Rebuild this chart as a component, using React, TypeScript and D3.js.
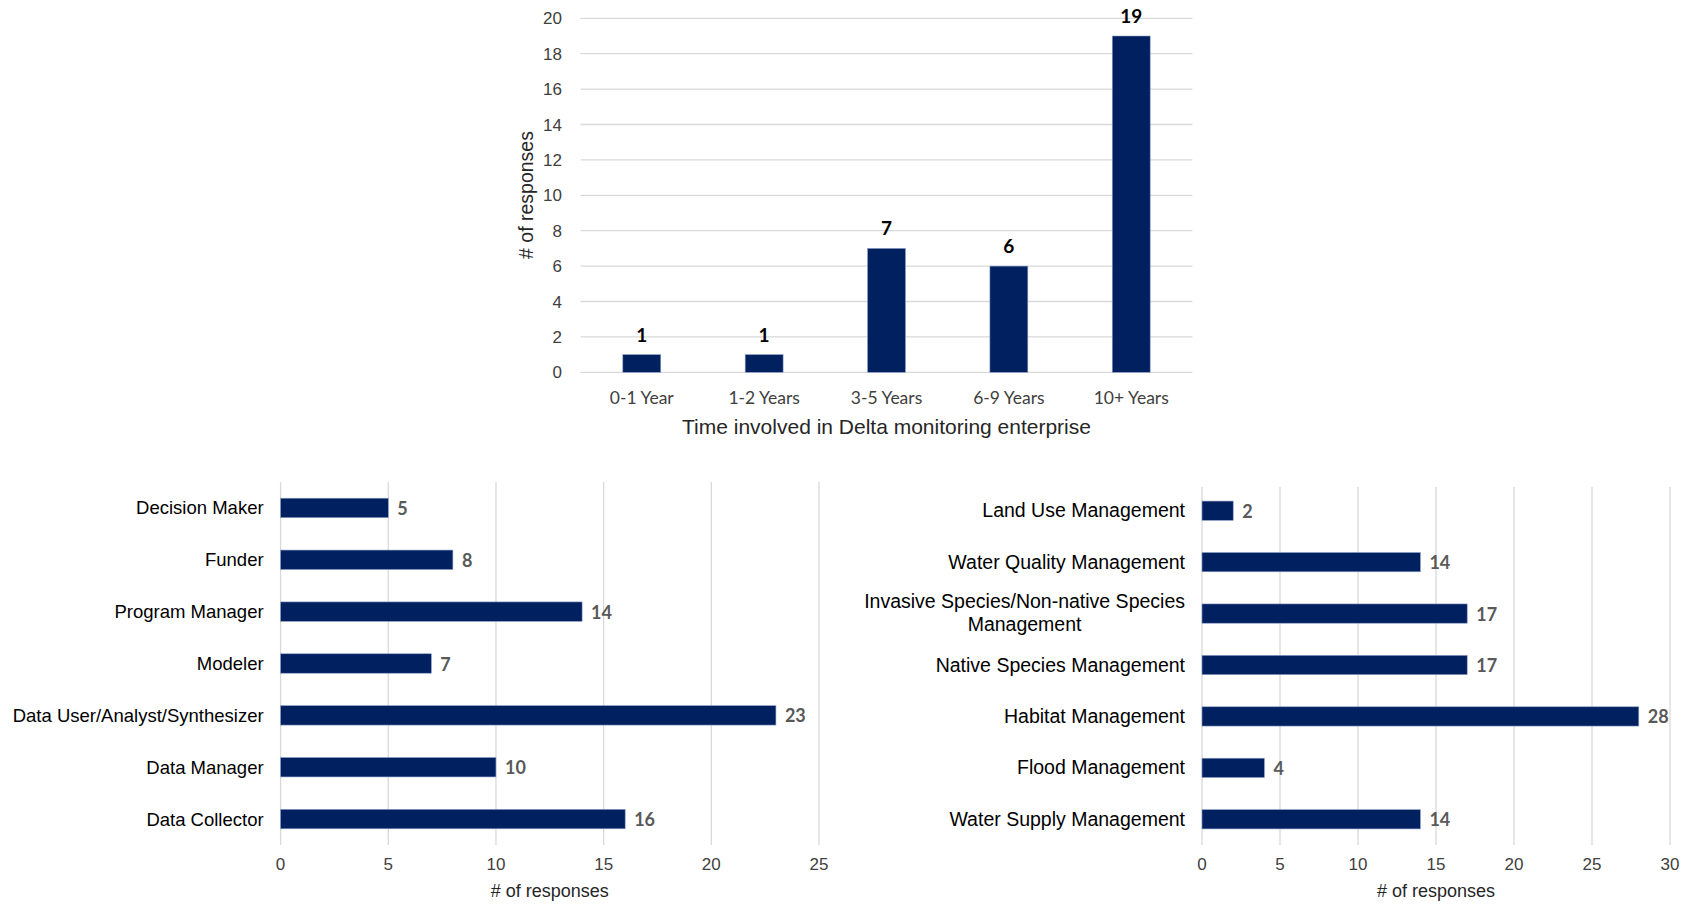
import { useEffect, useRef } from "react";
import * as d3 from "d3";

// top chart: years involved
const yearCats = ["0-1 Year", "1-2 Years", "3-5 Years", "6-9 Years", "10+ Years"];
const yearVals = [1, 1, 7, 6, 19];
const yearTicks = [0, 2, 4, 6, 8, 10, 12, 14, 16, 18, 20];

// bottom left: roles
const roleCats = ["Decision Maker", "Funder", "Program Manager", "Modeler", "Data User/Analyst/Synthesizer", "Data Manager", "Data Collector"];
const roleVals = [5, 8, 14, 7, 23, 10, 16];
const roleTicks = [0, 5, 10, 15, 20, 25];

// bottom right: management areas
const mgmtCats = [
  "Land Use Management",
  "Water Quality Management",
  "Invasive Species/Non-native Species\nManagement",
  "Native Species Management",
  "Habitat Management",
  "Flood Management",
  "Water Supply Management",
];
const mgmtVals = [2, 14, 17, 17, 28, 4, 14];
const mgmtTicks = [0, 5, 10, 15, 20, 25, 30];

const BAR = "#002060";
const GRID = "#d9d9d9";
const ARIAL = "'Liberation Sans', Arial, sans-serif";
const CALIBRI = "Lato, 'Open Sans', sans-serif";

function hbar(
  svg: d3.Selection<SVGSVGElement, unknown, null, undefined>,
  cats: string[],
  vals: number[],
  ticks: number[],
  box: { x0: number; x1: number; y0: number; y1: number; gy0: number },
  labelSize: number
) {
  const x = d3.scaleLinear().domain([0, ticks[ticks.length - 1]]).range([box.x0, box.x1]);
  const y = d3.scaleBand<string>().domain(cats).range([box.y0, box.y1]).paddingInner(0.625).paddingOuter(0.3125);
  const g = svg.append("g");

  g.selectAll("line.grid")
    .data(ticks)
    .enter()
    .append("line")
    .attr("x1", (d) => x(d))
    .attr("x2", (d) => x(d))
    .attr("y1", box.gy0)
    .attr("y2", box.y1)
    .attr("stroke", GRID)
    .attr("stroke-width", 1.3);

  g.selectAll("text.tick")
    .data(ticks)
    .enter()
    .append("text")
    .attr("x", (d) => x(d))
    .attr("y", box.y1 + 25)
    .attr("text-anchor", "middle")
    .style("font-family", ARIAL)
    .style("font-size", "17px")
    .attr("fill", "#404040")
    .text((d) => d);

  g.append("text")
    .attr("x", (box.x0 + box.x1) / 2)
    .attr("y", box.y1 + 52)
    .attr("text-anchor", "middle")
    .style("font-family", ARIAL)
    .style("font-size", "18px")
    .attr("fill", "#262626")
    .text("# of responses");

  g.selectAll("rect")
    .data(vals)
    .enter()
    .append("rect")
    .attr("x", x(0))
    .attr("y", (_, i) => y(cats[i])!)
    .attr("width", (d) => x(d) - x(0))
    .attr("height", y.bandwidth())
    .attr("fill", BAR)
    .attr("stroke", "#8ea0c8")
    .attr("stroke-width", 0.6);

  g.selectAll("text.val")
    .data(vals)
    .enter()
    .append("text")
    .attr("x", (d) => x(d) + 9)
    .attr("y", (_, i) => y(cats[i])! + y.bandwidth() / 2 + 7)
    .style("font-family", CALIBRI)
    .style("font-size", "18px")
    .style("font-weight", 700)
    .attr("fill", "#595959")
    .text((d) => d);

  cats.forEach((c) => {
    const cy = y(c)! + y.bandwidth() / 2;
    const lines = c.split("\n");
    const right = box.x0 - 17;
    if (lines.length === 1) {
      g.append("text")
        .attr("x", right)
        .attr("y", cy + 6.5)
        .attr("text-anchor", "end")
        .style("font-family", ARIAL)
        .style("font-size", `${labelSize}px`)
        .attr("fill", "#000")
        .text(c);
    } else {
      const t1 = g
        .append("text")
        .attr("x", right)
        .attr("y", cy - 6)
        .attr("text-anchor", "end")
        .style("font-family", ARIAL)
        .style("font-size", `${labelSize}px`)
        .attr("fill", "#000")
        .text(lines[0]);
      const w = (t1.node() as SVGTextElement).getComputedTextLength();
      g.append("text")
        .attr("x", right - w / 2)
        .attr("y", cy + 17.5)
        .attr("text-anchor", "middle")
        .style("font-family", ARIAL)
        .style("font-size", `${labelSize}px`)
        .attr("fill", "#000")
        .text(lines[1]);
    }
  });
}

export default function App() {
  const ref = useRef<SVGSVGElement | null>(null);

  useEffect(() => {
    document.body.style.margin = "0";
    if (!ref.current) return;
    const svg = d3.select(ref.current);
    svg.selectAll("*").remove();

    // ---- top column chart
    const x = d3.scaleBand<string>().domain(yearCats).range([580.6, 1192.4]).paddingInner(0.69).paddingOuter(0.345);
    const xc = d3.scaleBand<string>().domain(yearCats).range([580.6, 1192.4]);
    const y = d3.scaleLinear().domain([0, 20]).range([372.3, 18.3]);
    const top = svg.append("g");

    top.selectAll("line")
      .data(yearTicks)
      .enter()
      .append("line")
      .attr("x1", 580.6)
      .attr("x2", 1192.4)
      .attr("y1", (d) => y(d))
      .attr("y2", (d) => y(d))
      .attr("stroke", GRID)
      .attr("stroke-width", 1.3);

    top.selectAll("text.yt")
      .data(yearTicks)
      .enter()
      .append("text")
      .attr("x", 562)
      .attr("y", (d) => y(d) + 6)
      .attr("text-anchor", "end")
      .style("font-family", ARIAL)
      .style("font-size", "17px")
      .attr("fill", "#404040")
      .text((d) => d);

    top.selectAll("rect")
      .data(yearVals)
      .enter()
      .append("rect")
      .attr("x", (_, i) => x(yearCats[i])!)
      .attr("y", (d) => y(d))
      .attr("width", x.bandwidth())
      .attr("height", (d) => y(0) - y(d))
      .attr("fill", BAR)
      .attr("stroke", "#8ea0c8")
      .attr("stroke-width", 0.6);

    top.selectAll("text.v")
      .data(yearVals)
      .enter()
      .append("text")
      .attr("x", (_, i) => xc(yearCats[i])! + xc.bandwidth() / 2)
      .attr("y", (d) => y(d) - 13)
      .attr("text-anchor", "middle")
      .style("font-family", CALIBRI)
      .style("font-size", "19px")
      .style("font-weight", 700)
      .attr("fill", "#000")
      .text((d) => d);

    top.selectAll("text.xt")
      .data(yearCats)
      .enter()
      .append("text")
      .attr("x", (d) => xc(d)! + xc.bandwidth() / 2)
      .attr("y", 404)
      .attr("text-anchor", "middle")
      .style("font-family", CALIBRI)
      .style("font-size", "17.5px")
      .attr("fill", "#404040")
      .text((d) => d);

    top.append("text")
      .attr("x", 886.5)
      .attr("y", 434)
      .attr("text-anchor", "middle")
      .style("font-family", ARIAL)
      .style("font-size", "21px")
      .attr("fill", "#262626")
      .text("Time involved in Delta monitoring enterprise");

    top.append("text")
      .attr("transform", "translate(533,195) rotate(-90)")
      .attr("text-anchor", "middle")
      .style("font-family", ARIAL)
      .style("font-size", "19.5px")
      .attr("fill", "#262626")
      .text("# of responses");

    // ---- bottom charts
    hbar(svg, roleCats, roleVals, roleTicks, { x0: 280.6, x1: 819, y0: 482, y1: 845, gy0: 482 }, 18.5);
    hbar(svg, mgmtCats, mgmtVals, mgmtTicks, { x0: 1202, x1: 1670, y0: 485, y1: 845, gy0: 487 }, 19.5);
  }, []);

  return <svg ref={ref} width={1692} height={904} style={{ display: "block", background: "#fff" }} />;
}
